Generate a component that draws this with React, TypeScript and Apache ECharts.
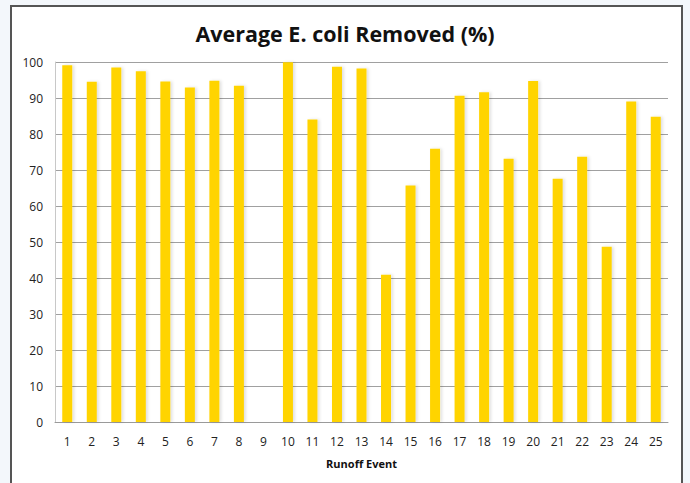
import React, { useEffect, useRef } from "react";
import * as echarts from "echarts";

const titleText = "Average E. coli Removed (%)";
const xAxisName = "Runoff Event";
const categories = [
  "1", "2", "3", "4", "5", "6", "7", "8", "9", "10", "11", "12", "13",
  "14", "15", "16", "17", "18", "19", "20", "21", "22", "23", "24", "25",
];
const removedPct = [
  99.1, 94.5, 98.5, 97.4, 94.6, 92.9, 94.8, 93.4, 0, 99.9, 84.0, 98.7, 98.2,
  40.9, 65.7, 75.9, 90.6, 91.6, 73.1, 94.7, 67.6, 73.7, 48.7, 89.0, 84.8,
];

const FONT = "'Open Sans', sans-serif";

export default function App() {
  const ref = useRef<HTMLDivElement>(null);
  useEffect(() => {
    document.body.style.margin = "0";
    const chart = echarts.init(ref.current!, null, { renderer: "svg" });
    chart.setOption({
      animation: false,
      backgroundColor: "#f3f7fb",
      graphic: [
        {
          type: "rect",
          z: -10,
          shape: { x: 11, y: 6, width: 671, height: 520 },
          style: { fill: "#ffffff", stroke: "#555555", lineWidth: 2 },
        },
      ],
      title: {
        text: titleText,
        left: "center",
        top: 17,
        textStyle: {
          fontFamily: FONT,
          fontWeight: "bold",
          fontSize: 21.5,
          color: "#111111",
        },
      },
      grid: { left: 55, right: 22, top: 62, bottom: 61 },
      xAxis: {
        type: "category",
        data: categories,
        axisTick: { show: false },
        axisLine: { show: true, lineStyle: { color: "#9a9a9a", width: 1 } },
        axisLabel: {
          fontFamily: FONT,
          fontSize: 12,
          color: "#222222",
          margin: 13,
          interval: 0,
        },
        name: xAxisName,
        nameLocation: "middle",
        nameGap: 36,
        nameTextStyle: {
          fontFamily: FONT,
          fontWeight: "bold",
          fontSize: 11,
          color: "#111111",
        },
      },
      yAxis: {
        type: "value",
        min: 0,
        max: 100,
        interval: 10,
        axisLine: { show: true, lineStyle: { color: "#c8c8c8", width: 1 } },
        axisTick: { show: false },
        axisLabel: {
          fontFamily: FONT,
          fontSize: 12,
          color: "#222222",
          margin: 12,
        },
        splitLine: { lineStyle: { color: "#a0a0a0", width: 1 } },
      },
      series: [
        {
          type: "bar",
          data: removedPct,
          barWidth: 10,
          itemStyle: {
            color: "#ffd400",
            shadowColor: "rgba(0,0,0,0.12)",
            shadowBlur: 3,
            shadowOffsetX: 2,
            shadowOffsetY: 0,
          },
        },
      ],
    });
    return () => chart.dispose();
  }, []);
  return (
    <div
      ref={ref}
      style={{ position: "absolute", left: 0, top: 0, width: 690, height: 483 }}
    />
  );
}
